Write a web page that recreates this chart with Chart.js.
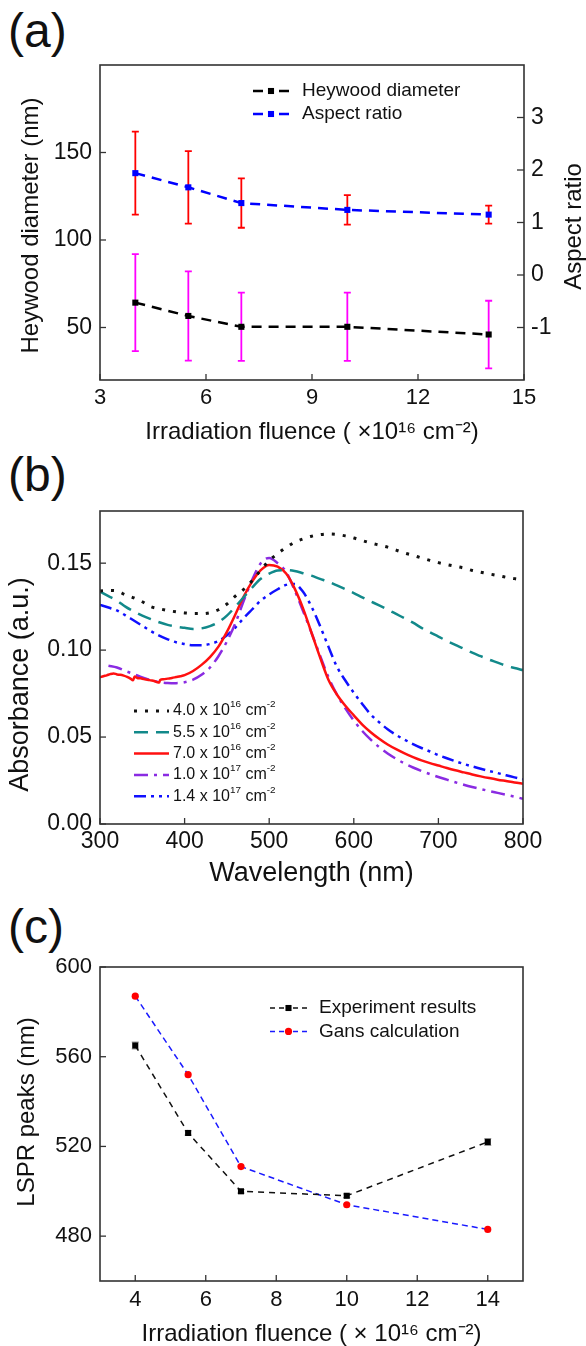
<!DOCTYPE html>
<html lang="en">
<head>
<meta charset="UTF-8">
<title>Fluence figure</title>
<style>
  body { margin: 0; background: #fff; width: 586px; height: 1346px; position: relative; overflow: hidden;
         font-family: "Liberation Sans", Arial, sans-serif; color: #111; }
  canvas { position: absolute; left: 0; }
  .tag { position: absolute; left: 8px; font-size: 48px; line-height: 1; }
</style>
</head>
<body>
<div class="tag" style="top:7px">(a)</div>
<div class="tag" style="top:451px">(b)</div>
<div class="tag" style="top:903px">(c)</div>

<canvas id="chartA" width="586" height="470" style="top:0"></canvas>
<canvas id="chartB" width="586" height="440" style="top:470px"></canvas>
<canvas id="chartC" width="586" height="436" style="top:910px"></canvas>

<script src="https://cdn.jsdelivr.net/npm/chart.js"></script>
<script>
// ---- panel (a) data ----
const fluence = [4, 5.5, 7, 10, 14];
const heywood = [64.2, 56.6, 50.4, 50.4, 46.0];
const heywoodErr = [27.7, 25.5, 19.5, 19.5, 19.3];
const aspect = [1.94, 1.67, 1.37, 1.24, 1.15];
const aspectErr = [0.79, 0.69, 0.47, 0.28, 0.17];
const ticksAx = [3, 6, 9, 12, 15];
const ticksAy = [50, 100, 150];
const ticksAy2 = [-1, 0, 1, 2, 3];

// ---- panel (b) data ----
const wavelength = [300, 310, 320, 330, 340, 350, 360, 370, 380, 390, 400, 410, 420, 430, 440, 450, 460, 470, 480, 490,
  500, 510, 520, 530, 540, 550, 560, 570, 580, 590, 600, 610, 620, 630, 640, 650, 660, 670, 680, 690,
  700, 710, 720, 730, 740, 750, 760, 770, 780, 790, 800];
const abs40e16 = [.1340, .1343, .1340, .1318, .1300, .1278, .1250, .1238, .1228, .1220, .1214, .1210, .1210, .1215, .1232, .1265, .1310, .1350, .1400, .1460,
  .1515, .1555, .1590, .1620, .1640, .1655, .1664, .1668, .1665, .1657, .1645, .1630, .1616, .1604, .1592, .1575, .1558, .1545, .1530, .1516,
  .1503, .1492, .1482, .1472, .1458, .1448, .1438, .1429, .1419, .1411, .1403];
const abs55e16 = [.1336, .1310, .1285, .1250, .1222, .1198, .1178, .1160, .1145, .1135, .1128, .1122, .1125, .1138, .1160, .1198, .1250, .1305, .1360, .1410,
  .1440, .1458, .1460, .1455, .1442, .1428, .1410, .1393, .1372, .1350, .1328, .1303, .1280, .1257, .1233, .1208, .1183, .1158, .1128, .1102,
  .1078, .1053, .1030, .1008, .0985, .0965, .0945, .0928, .0910, .0897, .0885];
// the 7.0e16 spectrum is noisy below 400 nm, so it has its own finer wavelength list
const wl70e16 = [300, 304, 308, 312, 316, 320, 324, 328, 332, 336, 339, 341, 344, 348, 352, 356, 360, 364, 368, 370, 371, 375, 380, 385, 390, 395, 400,
  410, 420, 430, 440, 450, 460, 470, 480, 490, 500, 510, 520, 530, 540, 550, 560, 570, 580, 590, 600, 610, 620, 630, 640, 650,
  660, 670, 680, 690, 700, 710, 720, 730, 740, 750, 760, 770, 780, 790, 800];
const abs70e16 = [.0844, .0850, .0855, .0862, .0866, .0860, .0858, .0853, .0846, .0836, .0826, .0848, .0840, .0838, .0833, .0830, .0826, .0822, .0815, .0814, .0828, .0832, .0836, .0840, .0845, .0850, .0856,
  .0880, .0915, .0960, .1020, .1105, .1205, .1310, .1395, .1460, .1490, .1480, .1440, .1355, .1240, .1100, .0960, .0830, .0745, .0680, .0625, .0572, .0528, .0490, .0457, .0430,
  .0406, .0385, .0366, .0350, .0336, .0322, .0309, .0297, .0285, .0274, .0264, .0255, .0247, .0239, .0232];
const abs10e17 = [null, .0910, .0900, .0880, .0862, .0843, .0827, .0816, .0811, .0810, .0815, .0830, .0858, .0900, .0965, .1050, .1155, .1285, .1405, .1500,
  .1530, .1500, .1450, .1345, .1225, .1100, .0970, .0845, .0745, .0665, .0595, .0535, .0485, .0442, .0405, .0375, .0348, .0325, .0305, .0287,
  .0270, .0255, .0240, .0226, .0213, .0201, .0190, .0179, .0168, .0157, .0145];
const abs14e17 = [.1260, .1245, .1228, .1200, .1170, .1140, .1110, .1083, .1062, .1045, .1035, .1028, .1028, .1035, .1052, .1085, .1130, .1185, .1235, .1285,
  .1320, .1350, .1375, .1380, .1335, .1250, .1140, .1020, .0905, .0825, .0755, .0690, .0630, .0585, .0545, .0512, .0485, .0460, .0437, .0417,
  .0396, .0378, .0361, .0345, .0331, .0318, .0305, .0293, .0280, .0268, .0257];
const ticksBx = [300, 400, 500, 600, 700, 800];
const ticksBy = [0, 0.05, 0.10, 0.15];

// ---- panel (c) data ----
const experiment = [565, 526, 500, 498, 522];
const experimentErr = [1.5, 1.0, 0.8, 0.8, 1.5];
const gans = [587, 552, 511, 494, 483];
const ticksCx = [4, 6, 8, 10, 12, 14];
const ticksCy = [480, 520, 560, 600];

const FONT = "'Liberation Sans', Arial, sans-serif";
const INK = '#111';
Chart.defaults.font.family = FONT;
Chart.defaults.color = INK;

const pts = (xs, ys) => xs.map((x, i) => ({ x: x, y: ys[i] }));

// text with ^superscript tokens, e.g. "cm^-2"
function drawRich(ctx, text, x, y, size) {
  const parts = text.split(/(\^\S+)/).filter(Boolean);
  let cx = x;
  parts.forEach(p => {
    const sup = p[0] === '^';
    const s = sup ? p.slice(1) : p;
    ctx.font = (sup ? size * 0.62 : size) + 'px ' + FONT;
    ctx.fillText(s, cx, sup ? y - size * 0.4 : y);
    cx += ctx.measureText(s).width;
  });
}

function drawMarker(ctx, ds, x, y) {
  if (!ds.pointRadius) return;
  ctx.fillStyle = ds.pointBackgroundColor;
  ctx.beginPath();
  if (ds.pointStyle === 'rect') {
    const h = ds.pointRadius * Math.SQRT1_2;
    ctx.rect(x - h, y - h, 2 * h, 2 * h);
  } else {
    ctx.arc(x, y, ds.pointRadius, 0, Math.PI * 2);
  }
  ctx.fill();
}

// frame, inward ticks, error bars, vertical titles and the legend inside the plot
const figPlugin = {
  id: 'fig',
  beforeDatasetsDraw(chart) {
    const ctx = chart.ctx;
    chart.data.datasets.forEach((ds, i) => {
      if (!ds.errors) return;
      const meta = chart.getDatasetMeta(i);
      const ys = chart.scales[meta.yAxisID];
      ctx.save();
      ctx.strokeStyle = ds.errorColor;
      ctx.lineWidth = ds.errorWidth;
      meta.data.forEach((pt, j) => {
        const v = ds.data[j].y, e = ds.errors[j];
        const top = ys.getPixelForValue(v + e);
        const bot = ys.getPixelForValue(v - e);
        const cap = ds.errorCap;
        ctx.beginPath();
        ctx.moveTo(pt.x, top); ctx.lineTo(pt.x, bot);
        ctx.moveTo(pt.x - cap, top); ctx.lineTo(pt.x + cap, top);
        ctx.moveTo(pt.x - cap, bot); ctx.lineTo(pt.x + cap, bot);
        ctx.stroke();
      });
      ctx.restore();
    });
  },
  afterDraw(chart, args, opts) {
    const ctx = chart.ctx;
    const { left, right, top, bottom } = chart.chartArea;
    ctx.save();
    ctx.strokeStyle = '#333';
    ctx.lineWidth = 1.6;
    ctx.strokeRect(left, top, right - left, bottom - top);
    ctx.lineWidth = 1.3;
    Object.values(chart.scales).forEach(s => {
      s.ticks.forEach(t => {
        const p = s.getPixelForValue(t.value);
        ctx.beginPath();
        if (s.axis === 'x') { ctx.moveTo(p, bottom); ctx.lineTo(p, bottom - 6); }
        else if (s.position === 'left') { ctx.moveTo(left, p); ctx.lineTo(left + 6, p); }
        else { ctx.moveTo(right, p); ctx.lineTo(right - 7, p); }
        ctx.stroke();
      });
    });

    // both vertical titles read bottom to top, as in the original figure
    (opts.yTitles || []).forEach(t => {
      ctx.save();
      ctx.translate(t.x, (top + bottom) / 2 + t.dy);
      ctx.rotate(-Math.PI / 2);
      ctx.fillStyle = INK;
      ctx.textAlign = 'center';
      ctx.textBaseline = 'middle';
      ctx.font = t.size + 'px ' + FONT;
      ctx.fillText(t.text, 0, 0);
      ctx.restore();
    });

    const lg = opts.legend;
    if (lg) {
      ctx.textBaseline = 'middle';
      chart.data.datasets.forEach((ds, i) => {
        const x0 = left + lg.x;
        const y = top + lg.y + i * lg.step;
        ctx.save();
        ctx.strokeStyle = ds.borderColor;
        ctx.lineWidth = ds.borderWidth;
        ctx.setLineDash(ds.legendDash || ds.borderDash || []);
        ctx.beginPath();
        ctx.moveTo(x0, y); ctx.lineTo(x0 + lg.len, y);
        ctx.stroke();
        ctx.restore();
        drawMarker(ctx, ds, x0 + lg.len / 2, y);
        ctx.fillStyle = INK;
        drawRich(ctx, ds.label, x0 + lg.len + lg.gap, y, lg.size);
      });
    }
    ctx.restore();
  }
};

function fixedTicks(list) {
  return axis => { axis.ticks = list.map(v => ({ value: v })); };
}

function axisX(min, max, list, height, tickSize, tickPad, title, titleSize, titlePad) {
  return {
    type: 'linear', min: min, max: max,
    afterBuildTicks: fixedTicks(list),
    afterFit: s => { s.height = height; },
    grid: { display: false, drawTicks: false },
    border: { display: false },
    ticks: { padding: tickPad, font: { size: tickSize }, color: INK, maxRotation: 0 },
    title: { display: true, text: title, color: INK, font: { size: titleSize, lineHeight: 1 }, padding: { top: 0, bottom: titlePad } }
  };
}

function axisY(pos, min, max, list, width, tickSize, tickPad, fmt) {
  return {
    type: 'linear', position: pos, min: min, max: max,
    afterBuildTicks: fixedTicks(list),
    afterFit: s => { s.width = width; },
    grid: { display: false, drawTicks: false },
    border: { display: false },
    ticks: { padding: tickPad, font: { size: tickSize }, color: INK, callback: fmt || (v => String(v)) }
  };
}

const common = {
  responsive: false,
  animation: false,
  events: [],
  plugins: { legend: { display: false }, tooltip: { enabled: false } }
};

// ---------- (a) ----------
new Chart(document.getElementById('chartA'), {
  type: 'line',
  data: {
    datasets: [{
      label: 'Heywood diameter',
      data: pts(fluence, heywood),
      yAxisID: 'y',
      borderColor: '#000', borderWidth: 2.5, borderDash: [10, 7], legendDash: [10, 16],
      pointStyle: 'rect', pointRadius: 4.3, pointBackgroundColor: '#000', pointBorderWidth: 0,
      errors: heywoodErr, errorColor: '#ff00ff', errorWidth: 1.8, errorCap: 3.5
    }, {
      label: 'Aspect ratio',
      data: pts(fluence, aspect),
      yAxisID: 'y2',
      borderColor: '#0000ff', borderWidth: 2.5, borderDash: [10, 7], legendDash: [10, 16],
      pointStyle: 'rect', pointRadius: 4.3, pointBackgroundColor: '#0000ff', pointBorderWidth: 0,
      errors: aspectErr, errorColor: '#ff0000', errorWidth: 1.8, errorCap: 3.5
    }]
  },
  options: {
    ...common,
    layout: { padding: { top: 65, left: 0, right: 0, bottom: 0 } },
    scales: {
      x: axisX(3, 15, ticksAx, 90, 22, 5, 'Irradiation fluence ( ×10¹⁶ cm⁻²)', 24, 26),
      y: axisY('left', 20, 200, ticksAy, 100, 23, 8),
      y2: axisY('right', -2, 4, ticksAy2, 62, 23, 7)
    },
    plugins: {
      ...common.plugins,
      fig: {
        yTitles: [
          { text: 'Heywood diameter (nm)', x: 31, dy: 3, size: 24 },
          { text: 'Aspect ratio', x: 574, dy: 4, size: 24 }
        ],
        legend: { x: 153, y: 26, step: 23, len: 36, gap: 13, size: 19 }
      }
    }
  },
  plugins: [figPlugin]
});

// ---------- (b) ----------
const lineB = { pointRadius: 0, borderWidth: 2.5, cubicInterpolationMode: 'monotone', fill: false };
new Chart(document.getElementById('chartB'), {
  type: 'line',
  data: {
    datasets: [
      { ...lineB, label: '4.0 x 10^16 cm^-2', data: pts(wavelength, abs40e16), borderColor: '#111', borderWidth: 3, borderDash: [3, 8] },
      { ...lineB, label: '5.5 x 10^16 cm^-2', data: pts(wavelength, abs55e16), borderColor: '#12898a', borderDash: [14, 8] },
      { ...lineB, label: '7.0 x 10^16 cm^-2', data: pts(wl70e16, abs70e16), borderColor: '#ff1010' },
      { ...lineB, label: '1.0 x 10^17 cm^-2', data: pts(wavelength, abs10e17), borderColor: '#8a2be2', borderDash: [14, 6, 3, 6] },
      { ...lineB, label: '1.4 x 10^17 cm^-2', data: pts(wavelength, abs14e17), borderColor: '#1010ff', borderDash: [12, 5, 3, 5, 3, 5] }
    ]
  },
  options: {
    ...common,
    layout: { padding: { top: 41, left: 0, right: 63, bottom: 0 } },
    scales: {
      x: axisX(300, 800, ticksBx, 86, 23, 4, 'Wavelength (nm)', 27, 23),
      y: axisY('left', 0, 0.18, ticksBy, 100, 23, 8, v => v.toFixed(2))
    },
    plugins: {
      ...common.plugins,
      fig: {
        yTitles: [{ text: 'Absorbance (a.u.)', x: 21, dy: 17, size: 27 }],
        legend: { x: 34, y: 200, step: 21.3, len: 35, gap: 4, size: 16 }
      }
    }
  },
  plugins: [figPlugin]
});

// ---------- (c) ----------
new Chart(document.getElementById('chartC'), {
  type: 'line',
  data: {
    datasets: [{
      label: 'Experiment results',
      data: pts(fluence, experiment),
      borderColor: '#111', borderWidth: 1.5, borderDash: [6, 5], legendDash: [5, 4, 5, 9, 5, 4],
      pointStyle: 'rect', pointRadius: 4.3, pointBackgroundColor: '#000', pointBorderWidth: 0,
      errors: experimentErr, errorColor: '#999', errorWidth: 1.2, errorCap: 3.5
    }, {
      label: 'Gans calculation',
      data: pts(fluence, gans),
      borderColor: '#1a1aff', borderWidth: 1.5, borderDash: [6, 4], legendDash: [5, 4, 5, 9, 5, 4],
      pointStyle: 'circle', pointRadius: 3.6, pointBackgroundColor: '#ff0000', pointBorderWidth: 0
    }]
  },
  options: {
    ...common,
    layout: { padding: { top: 57, left: 0, right: 63, bottom: 0 } },
    scales: {
      x: axisX(3, 15, ticksCx, 65, 22, 6, 'Irradiation fluence ( × 10¹⁶ cm⁻²)', 24, 0),
      y: axisY('left', 460, 600, ticksCy, 100, 22, 8)
    },
    plugins: {
      ...common.plugins,
      fig: {
        yTitles: [{ text: 'LSPR peaks (nm)', x: 27, dy: -12, size: 24 }],
        legend: { x: 170, y: 41, step: 23.4, len: 37, gap: 12, size: 19 }
      }
    }
  },
  plugins: [figPlugin]
});
</script>
</body>
</html>
